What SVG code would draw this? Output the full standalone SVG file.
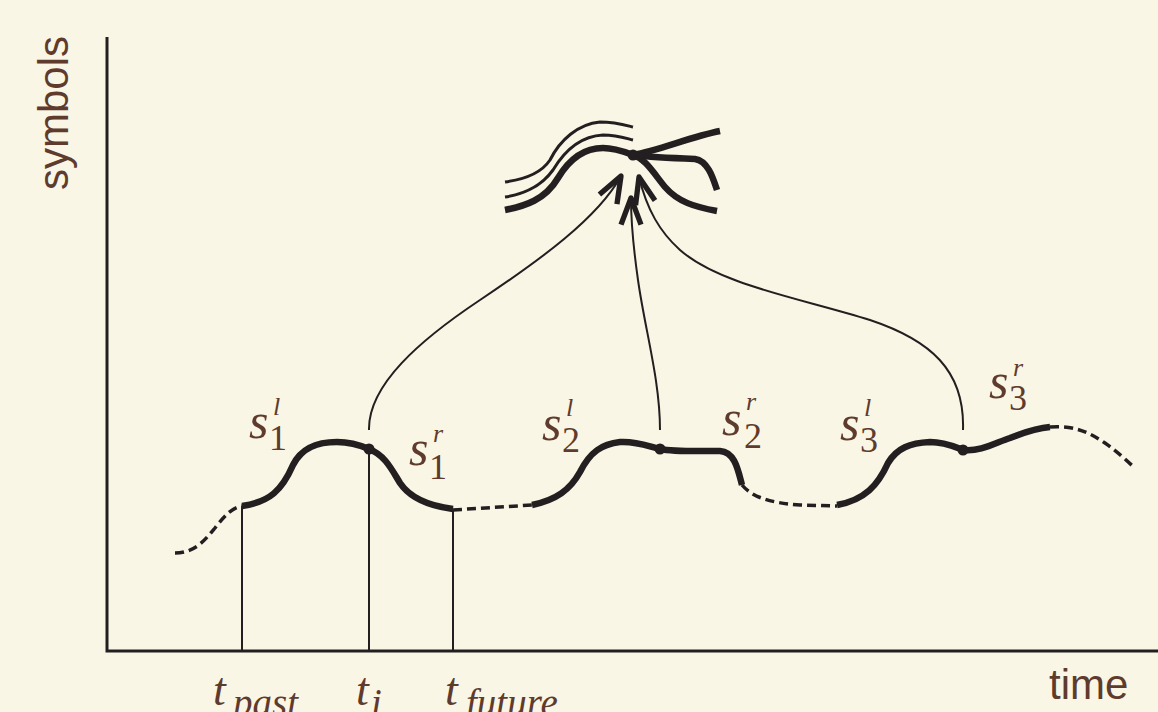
<svg xmlns="http://www.w3.org/2000/svg" width="1158" height="712" viewBox="0 0 1158 712">
<defs>
<style>
.bg{fill:#f9f6e5}
.axis{stroke:#231f20;stroke-width:3;fill:none}
.thick{stroke:#231f20;stroke-width:6.5;fill:none;stroke-linecap:butt}
.dash{stroke:#231f20;stroke-width:3.5;fill:none;stroke-dasharray:9 5}
.thin{stroke:#231f20;stroke-width:2;fill:none}
.med{stroke:#231f20;stroke-width:3;fill:none}
.conn{stroke:#231f20;stroke-width:2;fill:none}
.dot{fill:#231f20}
.lab{font-family:"Liberation Serif","Times New Roman",serif;font-style:italic;fill:#5f3b2e}
.s{font-size:50px}
.sup{font-size:26px}
.sub{font-size:36px;font-style:normal}
.tl{font-size:46px}
.ts{font-size:39px}
.ax{font-family:"Liberation Sans",Arial,sans-serif;font-size:42px;fill:#5f3b2e}
</style>
<marker id="head" markerUnits="userSpaceOnUse" markerWidth="40" markerHeight="40" refX="0" refY="0" viewBox="-25 -15 30 30" orient="auto" overflow="visible">
<path d="M-20,-7.5 L0,0 L-20,7.5" stroke="#231f20" stroke-width="4" fill="none" stroke-linejoin="round" stroke-linecap="butt"/>
</marker>
</defs>
<rect class="bg" x="0" y="0" width="1158" height="712"/>

<g id="axes">
<path class="axis" d="M107,37 L107,651 L1158,651"/>
<text class="ax" transform="translate(68,113) rotate(-90)" text-anchor="middle">symbols</text>
<text class="ax" x="1049" y="699">time</text>
</g>

<g id="signal">
<path class="dash" d="M175,553 C195,553 205,540 215,528 C225,515 232,508 242,506"/>
<path class="thick" d="M242,506 C270,502 282,490 293,465 C302,447 318,442 337,442 C352,442 362,446 369,449 C385,455 392,470 400,483 C410,498 430,506 453,509"/>
<path class="dash" d="M453,510 L532,505"/>
<path class="thick" d="M532,505 C556,500 570,490 580,472 C590,452 602,444 620,442 C638,441 650,447 660,449 C675,452 700,451 720,451 C735,452 738,470 742,485"/>
<path class="dash" d="M742,485 C752,497 770,503 800,505 L837,506"/>
<path class="thick" d="M837,505 C865,500 878,485 888,463 C897,448 910,443 930,442 C945,442 955,447 963,450 C980,452 995,443 1010,438 C1025,432 1038,428 1050,427"/>
<path class="dash" d="M1050,427 C1075,425 1090,433 1105,443 C1118,452 1128,462 1135,468"/>
</g>

<g id="time-markers">
<path class="thin" d="M242,506 L242,651 M369,449 L369,651 M453,510 L453,651"/>
<text class="lab tl" x="213" y="705">t</text><text class="lab ts" x="233" y="716">past</text>
<text class="lab tl" x="356" y="705">t</text><text class="lab ts" x="371" y="716">i</text>
<text class="lab tl" x="445" y="705">t</text><text class="lab ts" x="466" y="716">future</text>
</g>

<g id="s1l"><text class="lab s" x="249" y="438">s</text><text class="lab sup" x="273" y="415">l</text><text class="lab sub" x="269" y="450">1</text></g>
<g id="s1r"><text class="lab s" x="409" y="465">s</text><text class="lab sup" x="433" y="442">r</text><text class="lab sub" x="429" y="479">1</text></g>
<g id="s2l"><text class="lab s" x="542" y="440">s</text><text class="lab sup" x="566" y="416">l</text><text class="lab sub" x="562" y="452">2</text></g>
<g id="s2r"><text class="lab s" x="722" y="435">s</text><text class="lab sup" x="746" y="410">r</text><text class="lab sub" x="744" y="448">2</text></g>
<g id="s3l"><text class="lab s" x="840" y="440">s</text><text class="lab sup" x="864" y="416">l</text><text class="lab sub" x="860" y="452">3</text></g>
<g id="s3r"><text class="lab s" x="989" y="398">s</text><text class="lab sup" x="1013" y="376">r</text><text class="lab sub" x="1009" y="410">3</text></g>

<g id="prediction">
<path class="med" d="M505,182 C520,180 540,175 550,160 C560,140 578,124 600,122 C615,122 625,125 633,127"/>
<path class="med" d="M505,197 C520,195 540,188 553,170 C565,150 582,136 603,135 C617,135 625,138 633,140"/>
<path class="thick" d="M505,210 C525,206 545,200 558,178 C570,158 585,148 603,148 C615,148 625,152 633,155"/>
<path class="thick" d="M633,155 C660,150 690,137 720,131"/>
<path class="thick" d="M633,155 C650,157 670,158 695,159 C708,161 713,178 717,190"/>
<path class="thick" d="M633,155 C645,158 655,175 665,187 C678,202 695,207 717,211"/>
</g>

<g id="points">
<circle class="dot" cx="369" cy="449" r="5.5"/>
<circle class="dot" cx="660" cy="449" r="5.5"/>
<circle class="dot" cx="963" cy="450" r="5.5"/>
<circle class="dot" cx="633" cy="155" r="5.5"/>
</g>

<g id="connectors">
<path class="conn" marker-end="url(#head)" d="M369,430 C368,385 420,340 480,300 C540,260 598,218 621,176"/>
<path class="conn" marker-end="url(#head)" d="M660,430 C660,380 645,330 638,280 C633,245 631,220 631,198"/>
<path class="conn" marker-end="url(#head)" d="M963,430 C965,370 930,340 870,320 C800,298 720,285 680,250 C660,232 647,210 639,177"/>
</g>
</svg>
